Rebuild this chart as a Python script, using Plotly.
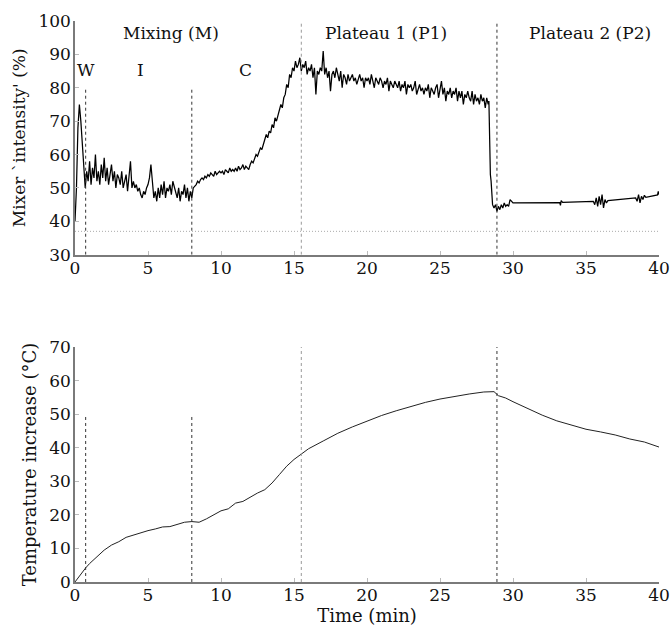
import numpy as np
import plotly.graph_objects as go
from plotly.subplots import make_subplots

# ---------------- data ----------------
# Mixer intensity (%), regularly sampled every 0.1 min from 0.0 to 28.3 min
intensity_regular_pct = [
    40, 50, 68, 75, 70, 62, 57, 50, 55, 52,
    58, 51, 56, 53, 60, 52, 55, 51, 57, 53,
    59, 52, 56, 51, 54, 57, 52, 55, 50, 54,
    53, 51, 55, 50, 52, 54, 49, 53, 58, 50,
    52, 50, 51, 49, 50, 48, 47, 49, 48, 50,
    51, 53, 57, 52, 47, 49, 46, 50, 47, 51,
    48, 52, 47, 50, 49, 51, 48, 52, 50, 49,
    47, 50, 46, 49, 48, 51, 47, 50, 46, 49,
    47, 50, 50.5, 51, 52, 51.5, 52.5, 53, 52.5, 53.5,
    53, 54, 53.5, 54.5, 54, 53.5, 55, 54, 54.5, 55,
    54.5, 55, 54, 55.5, 55, 54.5, 56, 55, 55.5, 55,
    56, 55, 56.5, 55.5, 56, 57, 55.5, 56.5, 56, 55.5,
    57, 58, 57.5, 59, 60, 59.5, 61, 62, 61.5, 63,
    64, 66, 65, 67, 66.5, 69, 68, 71, 70, 72,
    73, 75, 74, 77, 78, 81, 80, 84, 83, 86,
    85, 88, 86, 87, 89, 85, 87, 86, 88, 84,
    86, 85, 87, 83, 86, 78, 85, 84, 86, 85,
    91, 84, 86, 83, 85, 79, 84, 85, 83, 86,
    84, 82, 85, 80, 84, 83, 81, 84, 82, 83,
    84, 82, 83, 81, 83, 84, 82, 83, 80, 83,
    82, 83, 81, 84, 82, 80, 83, 82, 81, 83,
    82, 80, 82, 81, 83, 79, 82, 81, 80, 82,
    81, 80, 82, 79, 81, 80, 82, 78, 81, 80,
    81, 79, 80, 82, 78, 80, 81, 79, 80, 78,
    80, 79, 81, 77, 80, 79, 78, 80, 81, 77,
    79, 82, 78, 80, 76, 79, 78, 80, 77, 79,
    78, 80, 76, 79, 77, 79, 75, 78, 77, 79,
    77, 76, 79, 75, 78, 76, 77, 75, 78, 76,
    77, 74, 77, 75,
]
intensity_regular_step_min = 0.1

# Mixer intensity after the drop (irregular samples)
intensity_tail_time = [28.35, 28.4, 28.45, 28.5, 28.55, 28.6, 28.7, 28.8, 28.9, 29.0,
                       29.1, 29.2, 29.3, 29.4, 29.5, 29.6, 29.7, 29.8, 30.0, 33.2,
                       33.25, 33.3, 33.4, 35.5, 35.6, 35.7, 35.8, 35.9, 36.0, 36.1,
                       36.2, 36.3, 36.4, 36.5, 38.4, 38.5, 38.6, 38.7, 38.8, 38.9,
                       39.0, 39.1, 39.9, 39.95, 40.0]
intensity_tail_pct = [76, 62, 54, 52, 47, 45, 44, 45, 43, 44.5,
                      43.5, 45, 44, 45.5, 44.5, 45, 44.5, 46.5, 45.5, 45.6,
                      44.8, 46.2, 45.7, 46, 45, 47, 44.5, 47.5, 45, 48,
                      44, 46.5, 45.5, 46.2, 47, 46, 48, 45.5, 47.5, 46.5,
                      47.8, 47.2, 47.9, 49, 48]

# Temperature increase (°C)
temp_time = [0, 0.25, 0.5, 0.73, 1, 1.5, 2, 2.5, 3, 3.5, 4, 4.5, 5, 5.5, 6, 6.5, 7, 7.5,
             8, 8.5, 9, 9.5, 10, 10.5, 11, 11.5, 12, 12.5, 13, 13.5, 14, 14.5, 15, 15.5,
             16, 17, 18, 19, 20, 21, 22, 23, 24, 25, 26, 27, 28, 28.7, 29, 29.5, 30, 31,
             32, 33, 34, 35, 36, 37, 38, 39, 40]
temp_increase = [0, 1.5, 3, 4.2, 5.5, 7.5, 9.5, 11, 12, 13.3, 14, 14.6, 15.3, 15.8, 16.4,
                 16.5, 17.2, 17.8, 18, 17.8, 18.8, 20, 21.2, 21.8, 23.5, 24, 25.3, 26.5,
                 27.5, 29.5, 32, 34.5, 36.5, 38.2, 39.7, 42, 44.3, 46.2, 48, 49.6, 51,
                 52.3, 53.5, 54.5, 55.3, 56, 56.6, 56.7, 55.5, 54.8, 53.7, 51.7, 49.7, 48,
                 46.8, 45.5, 44.7, 43.8, 42.6, 41.7, 40.2]

# Phase boundaries (min): short sub-phase markers and long phase markers
short_boundaries = [0.73, 8.0]
long_boundaries = [15.5, 28.9]
baseline_intensity = 37

phase_labels = ["Mixing (M)", "Plateau 1 (P1)", "Plateau 2 (P2)"]
phase_label_x = [6.6, 21.3, 35.3]
subphase_labels = ["W", "I", "C"]
subphase_label_x = [0.73, 4.5, 11.7]

x_ticks = [0, 5, 10, 15, 20, 25, 30, 35, 40]

# ---------------- figure ----------------
reg_time = [round(i * intensity_regular_step_min, 2) for i in range(len(intensity_regular_pct))]
int_time = reg_time + intensity_tail_time
int_vals = intensity_regular_pct + intensity_tail_pct

FONT = "DejaVu Serif"
TXT = "#111111"
fig = make_subplots(rows=2, cols=1)

fig.add_trace(go.Scatter(x=int_time, y=int_vals, mode="lines",
                         line=dict(color="black", width=1.25), showlegend=False), row=1, col=1)
fig.add_trace(go.Scatter(x=temp_time, y=temp_increase, mode="lines",
                         line=dict(color="#222", width=1.0), showlegend=False), row=2, col=1)

DASH = "3px,3px"
shapes = []
shapes.append(dict(type="line", xref="x", yref="y", x0=0, x1=40, y0=baseline_intensity,
                   y1=baseline_intensity, line=dict(color="#aaaaaa", width=1, dash="1px,2px")))
for b in short_boundaries:
    shapes.append(dict(type="line", xref="x", yref="y", x0=b, x1=b, y0=30, y1=80,
                       line=dict(color="#333", width=1, dash=DASH)))
    shapes.append(dict(type="line", xref="x2", yref="y2", x0=b, x1=b, y0=0, y1=50,
                       line=dict(color="#333", width=1, dash=DASH)))
for b, col in zip(long_boundaries, ["#999999", "#333333"]):
    shapes.append(dict(type="line", xref="x", yref="y", x0=b, x1=b, y0=30, y1=100,
                       line=dict(color=col, width=1, dash=DASH)))
    shapes.append(dict(type="line", xref="x2", yref="y2", x0=b, x1=b, y0=0, y1=70,
                       line=dict(color=col, width=1, dash=DASH)))
fig.update_layout(shapes=shapes)

annotations = []
for lab, x in zip(phase_labels, phase_label_x):
    annotations.append(dict(x=x, y=96.5, xref="x", yref="y", text=lab, showarrow=False,
                            font=dict(family=FONT, size=17, color=TXT)))
for lab, x in zip(subphase_labels, subphase_label_x):
    annotations.append(dict(x=x, y=85.3, xref="x", yref="y", text=lab, showarrow=False,
                            font=dict(family=FONT, size=17, color=TXT)))
fig.update_layout(annotations=annotations)

axis_common = dict(showline=True, linecolor="#7a7a7a", linewidth=1.5, ticks="inside",
                   ticklen=4, tickcolor="#bbbbbb", showgrid=False, zeroline=False,
                   automargin=False, tickfont=dict(family=FONT, size=17, color=TXT))
fig.update_xaxes(range=[0, 40], tickvals=x_ticks, ticklabelstandoff=-3, **axis_common)
fig.update_yaxes(ticklabelstandoff=-1, **axis_common)
fig.update_yaxes(range=[30, 100], dtick=10, domain=[0.5834, 1.0], row=1, col=1,
                 title=dict(text="Mixer `intensity' (%)", standoff=8,
                            font=dict(family=FONT, size=17, color=TXT)))
fig.update_yaxes(range=[0, 70], dtick=10, domain=[0.0, 0.4189], row=2, col=1,
                 title=dict(text="Temperature increase (°C)", standoff=8,
                            font=dict(family=FONT, size=18, color=TXT)))
fig.update_xaxes(row=2, col=1,
                 title=dict(text="Time (min)", standoff=0,
                            font=dict(family=FONT, size=18, color=TXT)))

fig.update_layout(width=670, height=630, plot_bgcolor="white", paper_bgcolor="white",
                  margin=dict(l=75, r=11, t=21, b=48))
# remove the page body's default 8 px margin so the figure fills the window exactly
fig.write_html("out.html", config={"displayModeBar": False},
               post_script="document.body.style.margin='0';document.body.style.overflow='hidden';")
